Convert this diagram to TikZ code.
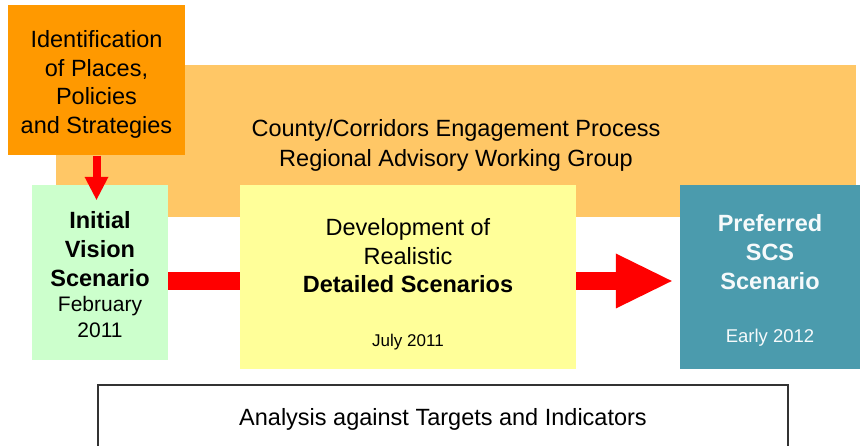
\documentclass[tikz,border=0pt]{standalone}
\usepackage{fontspec}
\setmainfont{Liberation Sans}
\usetikzlibrary{arrows.meta,positioning}
\definecolor{boxorange}{HTML}{FF9900}
\definecolor{bandorange}{HTML}{FFC766}
\definecolor{visiongreen}{HTML}{CCFFCC}
\definecolor{scenyellow}{HTML}{FFFF99}
\definecolor{scsteal}{HTML}{4B9BAD}
\definecolor{arrowred}{HTML}{FF0000}
\tikzset{
  stagebox/.style={inner sep=0pt},
  stagetext/.style={inner sep=0pt, align=center, font=\fontsize{23.5}{29}\selectfont},
  redbar/.style={draw=arrowred, line width=18pt},
}
\begin{document}
\begin{tikzpicture}[x=1pt,y=-1pt]
\useasboundingbox (0,0) rectangle (860,446);

% Engagement band behind the stages
\node[stagebox, fill=bandorange, minimum width=800pt, minimum height=152pt] (band) at (456,141) {};
\node[stagetext, font=\fontsize{23.5}{30}\selectfont] (bandtext) at ([yshift=-4pt]band.center)
  {County/Corridors Engagement Process\\Regional Advisory Working Group};

% Stages
\node[stagebox, fill=boxorange, minimum width=177pt, minimum height=150pt] (places) at (96.5,80.5) {};
\node[stagetext, font=\fontsize{23.5}{28.5}\selectfont] (placestext) at ([yshift=-4pt]places.center)
  {Identification\\of Places,\\Policies\\and Strategies};

\node[stagebox, fill=visiongreen, minimum width=136pt, minimum height=175pt] (initial) at (100,272.5) {};
\node[stagetext] (initialtext) at ([yshift=-2pt]initial.center)
  {\textbf{Initial}\\\textbf{Vision}\\\textbf{Scenario}\\[-4pt]{\fontsize{21}{25}\selectfont February}\\[-3pt]{\fontsize{21}{25}\selectfont 2011}};

\node[stagebox, fill=scenyellow, minimum width=336pt, minimum height=184pt] (detailed) at (408,277) {};
\node[stagetext, font=\fontsize{23.5}{28.5}\selectfont] (detailedtext) at ([yshift=-7.5pt]detailed.center)
  {Development of\\Realistic\\\textbf{Detailed Scenarios}\\[25pt]{\fontsize{17}{20}\selectfont July 2011}};

\node[stagebox, fill=scsteal, minimum width=180pt, minimum height=184pt] (preferred) at (770,277) {};
\node[stagetext, text=white!95!scsteal] (preferredtext) at ([yshift=-3pt]preferred.center)
  {\textbf{Preferred}\\\textbf{SCS}\\\textbf{Scenario}\\[24pt]{\fontsize{18.5}{22}\selectfont Early 2012}};

% Analysis box, cut off at the bottom
\node[stagetext, draw=black!80, line width=1.2pt, minimum width=690pt, minimum height=68pt] (analysis) at (443,419)
  {Analysis against Targets and Indicators};

% Red connectors
\coordinate (axis) at (0,281);
\draw[redbar, line width=8pt, -{Triangle[length=23pt,width=24pt,line width=0pt]}, shorten >=-15pt]
  (places.south) -- (places.south |- initial.north);
\draw[redbar] (initial.east |- axis) -- (detailed.west |- axis);
\draw[redbar, -{Triangle[length=56pt,width=55pt,line width=0pt]}, shorten >=8pt]
  (detailed.east |- axis) -- (preferred.west |- axis);
\end{tikzpicture}
\end{document}
